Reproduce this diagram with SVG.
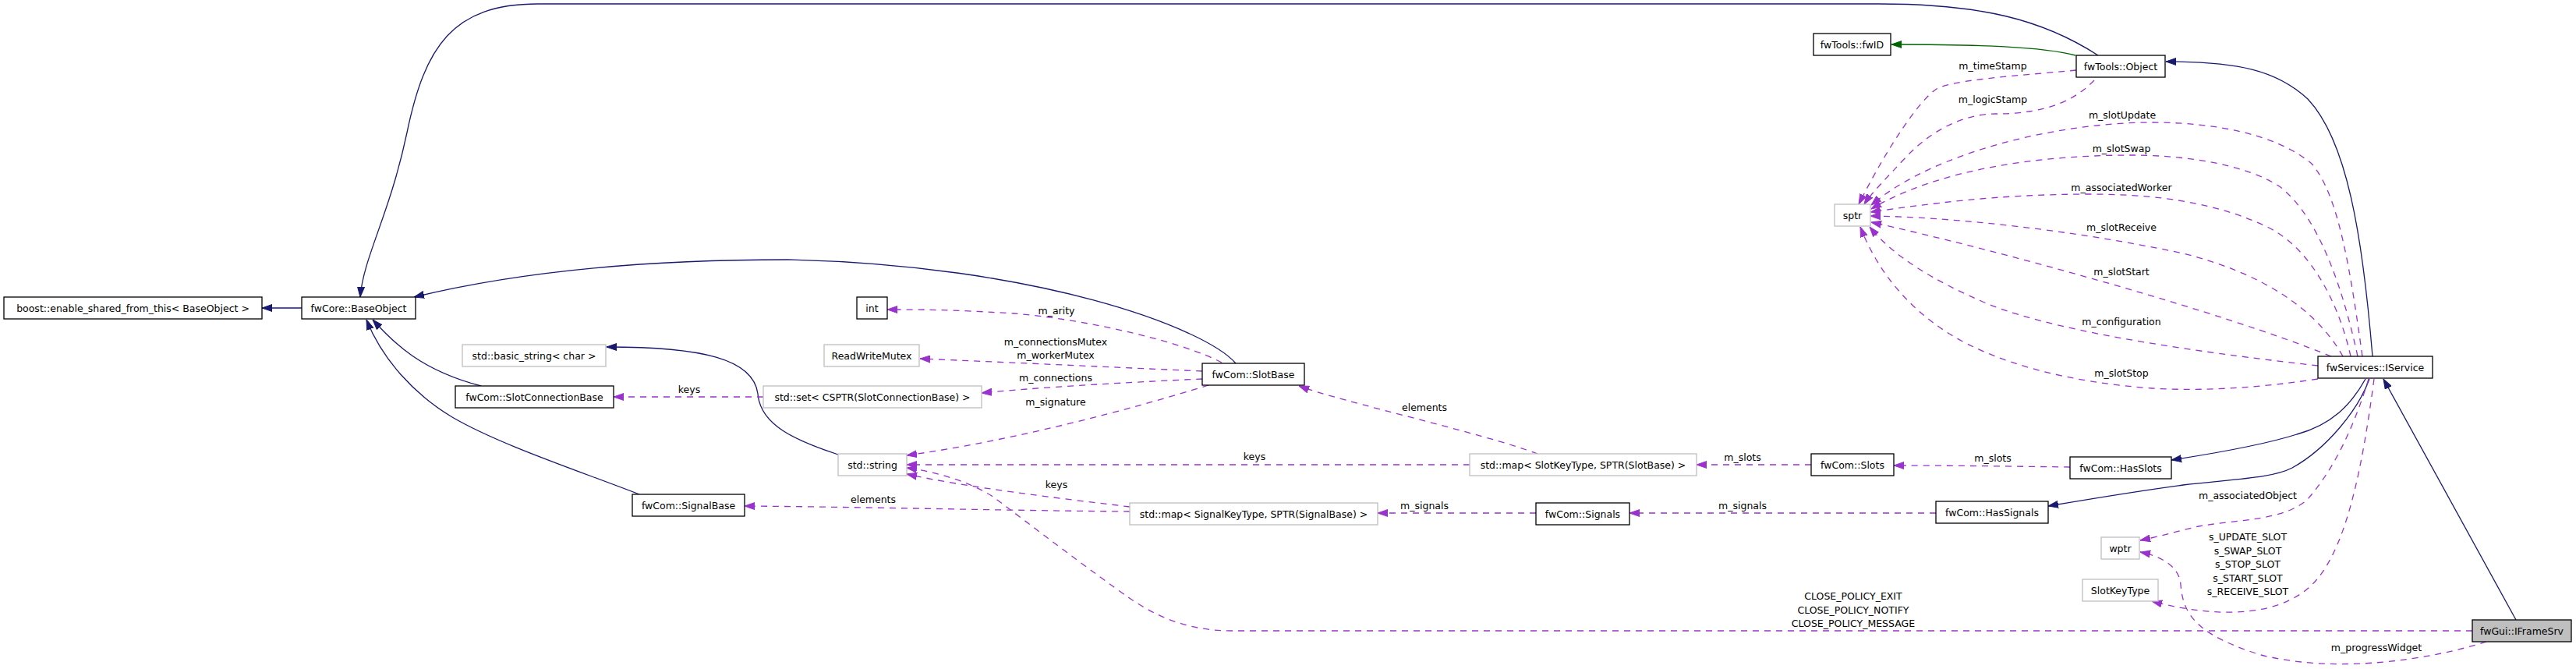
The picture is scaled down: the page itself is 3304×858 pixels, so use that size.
<svg xmlns="http://www.w3.org/2000/svg" width="3304" height="858" viewBox="0 0 3304 858">
<style>
text{font-family:"DejaVu Sans","Liberation Sans",sans-serif;font-size:12.5px;text-anchor:middle;fill:#000}
.n rect{fill:#fff;stroke:#000;stroke-width:1.3}
.u rect{fill:#fff;stroke:#bfbfbf;stroke-width:1.3}
.f rect{fill:#bfbfbf;stroke:#000;stroke-width:1.3}
.e{fill:none;stroke-width:1.3}
.pub{stroke:#191970;marker-end:url(#aN)}
.prot{stroke:#006400;marker-end:url(#aG)}
.use{stroke:#9a32cd;stroke-dasharray:8,7;marker-end:url(#aP)}
</style>
<defs>
<marker id="aN" viewBox="0 0 13 10" markerUnits="userSpaceOnUse" markerWidth="13" markerHeight="10" refX="13" refY="5" orient="auto"><path d="M0,0.5 L13,5 L0,9.5 z" fill="#191970" stroke="#191970" stroke-width="1"/></marker>
<marker id="aG" viewBox="0 0 13 10" markerUnits="userSpaceOnUse" markerWidth="13" markerHeight="10" refX="13" refY="5" orient="auto"><path d="M0,0.5 L13,5 L0,9.5 z" fill="#006400" stroke="#006400" stroke-width="1"/></marker>
<marker id="aP" viewBox="0 0 13 10" markerUnits="userSpaceOnUse" markerWidth="13" markerHeight="10" refX="13" refY="5" orient="auto"><path d="M0,0.5 L13,5 L0,9.5 z" fill="#9a32cd" stroke="#9a32cd" stroke-width="1"/></marker>
</defs>
<rect x="0" y="0" width="3304" height="858" fill="#fff"/>
<g id="connectors">
<path class="e pub" d="M387,395 L336,395"/>
<path class="e pub" d="M2691,71 C2620,25 2540,5 2410,5 L690,5 C580,5 545,60 522,170 C500,275 466,330 462,381"/>
<path class="e pub" d="M1585,466 C1545,420 1330,340 1010,333 C880,333 700,340 531,381"/>
<path class="e pub" d="M617,495 C540,475 505,440 478,410"/>
<path class="e pub" d="M820,634 C740,603 640,570 580,535 C530,505 490,460 470,410"/>
<path class="e pub" d="M1075,583 C1020,565 975,545 972,505 C966,460 900,445 778,445"/>
<path class="e prot" d="M2662,71 C2620,60 2540,57 2426,57"/>
<path class="e pub" d="M3043,457 C3030,300 3010,180 2960,127 C2920,90 2870,79 2778,79"/>
<path class="e pub" d="M3034,486 C3015,520 2990,545 2946,557 C2905,570 2850,580 2785,590"/>
<path class="e pub" d="M3039,486 C3025,525 2985,575 2940,600 C2915,613 2870,614 2800,622 C2740,630 2680,640 2627,649"/>
<path class="e pub" d="M3227,795 L3057,486"/>
<path class="e use" d="M1567,465 C1520,440 1400,410 1300,402 C1220,397 1180,397 1138,397"/>
<path class="e use" d="M1542,476 C1450,472 1300,465 1180,460"/>
<path class="e use" d="M1542,486 C1450,490 1330,497 1259,504"/>
<path class="e use" d="M1550,494 C1450,525 1300,565 1163,584"/>
<path class="e use" d="M979,509 L787,509"/>
<path class="e use" d="M1972,582 C1900,555 1720,515 1666,495"/>
<path class="e use" d="M1885,596 L1163,596"/>
<path class="e use" d="M1449,650 C1350,638 1240,625 1163,608"/>
<path class="e use" d="M1449,656 C1300,655 1100,650 955,649"/>
<path class="e use" d="M2323,596 L2176,596"/>
<path class="e use" d="M1970,658 L1767,658"/>
<path class="e use" d="M2655,599 C2580,598 2500,597 2429,597"/>
<path class="e use" d="M2483,658 L2090,658"/>
<path class="e use" d="M2663,90 C2590,97 2505,102 2484,114 C2462,128 2420,190 2384,262"/>
<path class="e use" d="M2686,103 C2665,125 2630,146 2560,146 C2515,146 2475,170 2446,200 C2420,228 2400,248 2391,262"/>
<path class="e use" d="M3030,457 C3015,350 3000,250 2965,210 C2920,172 2840,157 2760,157 C2640,157 2480,195 2400,263"/>
<path class="e use" d="M3024,457 C3005,370 2975,280 2925,240 C2880,210 2800,199 2735,199 C2620,199 2490,215 2400,268"/>
<path class="e use" d="M3015,457 C3000,390 2965,320 2910,292 C2840,258 2760,249 2680,249 C2560,249 2470,262 2399,272"/>
<path class="e use" d="M3005,457 C2970,395 2900,350 2800,325 C2660,295 2500,278 2399,277"/>
<path class="e use" d="M2990,457 C2850,400 2560,320 2400,285"/>
<path class="e use" d="M2973,469 C2850,455 2650,430 2550,390 C2480,360 2430,330 2398,291"/>
<path class="e use" d="M2973,486 C2900,497 2830,502 2760,498 C2650,490 2560,465 2500,428 C2440,390 2405,340 2386,291"/>
<path class="e use" d="M3038,486 C3020,545 2995,600 2960,640 C2930,668 2870,666 2820,675 C2790,682 2770,688 2745,693"/>
<path class="e use" d="M3045,486 C3030,600 3010,700 2970,745 C2930,790 2850,795 2760,771"/>
<path class="e use" d="M3189,823 C3120,845 3000,865 2900,840 C2820,815 2800,790 2797,750 C2795,725 2770,713 2745,708"/>
<path class="e use" d="M3171,809 L1580,809 C1530,809 1490,795 1450,768 C1400,733 1320,672 1275,638 C1245,618 1200,605 1163,600"/>
<text x="884" y="504">keys</text>
<text x="1355" y="403">m_arity</text>
<text x="1354" y="443">m_connectionsMutex</text>
<text x="1354" y="460">m_workerMutex</text>
<text x="1354" y="489">m_connections</text>
<text x="1354" y="520">m_signature</text>
<text x="1827" y="527">elements</text>
<text x="1609" y="590">keys</text>
<text x="1355" y="626">keys</text>
<text x="1120" y="645">elements</text>
<text x="1827" y="653">m_signals</text>
<text x="2235" y="591">m_slots</text>
<text x="2556" y="592">m_slots</text>
<text x="2235" y="653">m_signals</text>
<text x="2556" y="89">m_timeStamp</text>
<text x="2556" y="132">m_logicStamp</text>
<text x="2722" y="152">m_slotUpdate</text>
<text x="2721" y="195">m_slotSwap</text>
<text x="2721" y="245">m_associatedWorker</text>
<text x="2721" y="296">m_slotReceive</text>
<text x="2721" y="353">m_slotStart</text>
<text x="2721" y="417">m_configuration</text>
<text x="2721" y="483">m_slotStop</text>
<text x="2883" y="640">m_associatedObject</text>
<text x="2883" y="693">s_UPDATE_SLOT</text>
<text x="2883" y="710.5">s_SWAP_SLOT</text>
<text x="2883" y="728">s_STOP_SLOT</text>
<text x="2883" y="745.5">s_START_SLOT</text>
<text x="2883" y="763">s_RECEIVE_SLOT</text>
<text x="2377" y="769">CLOSE_POLICY_EXIT</text>
<text x="2377" y="786.5">CLOSE_POLICY_NOTIFY</text>
<text x="2377" y="804">CLOSE_POLICY_MESSAGE</text>
<text x="3048" y="835">m_progressWidget</text>
</g>
<g id="node-boost" class="n"><rect x="5" y="381" width="331" height="28"/><text x="170.5" y="399.5">boost::enable_shared_from_this&lt; BaseObject &gt;</text></g>
<g id="node-BaseObject" class="n"><rect x="387" y="381" width="146" height="28"/><text x="460" y="399.5">fwCore::BaseObject</text></g>
<g id="node-basic_string" class="u"><rect x="593" y="442" width="184" height="28"/><text x="685" y="460.5">std::basic_string&lt; char &gt;</text></g>
<g id="node-SlotConnectionBase" class="n"><rect x="584" y="495" width="203" height="28"/><text x="685.5" y="513.5">fwCom::SlotConnectionBase</text></g>
<g id="node-int" class="n"><rect x="1099" y="381" width="39" height="28"/><text x="1118.5" y="399.5">int</text></g>
<g id="node-ReadWriteMutex" class="u"><rect x="1057" y="442" width="122" height="28"/><text x="1118" y="460.5">ReadWriteMutex</text></g>
<g id="node-set" class="u"><rect x="979" y="495" width="280" height="28"/><text x="1119" y="513.5">std::set&lt; CSPTR(SlotConnectionBase) &gt;</text></g>
<g id="node-SlotBase" class="n"><rect x="1542" y="466" width="131" height="28"/><text x="1607.5" y="484.5">fwCom::SlotBase</text></g>
<g id="node-string" class="u"><rect x="1075" y="582" width="88" height="28"/><text x="1119" y="600.5">std::string</text></g>
<g id="node-SignalBase" class="n"><rect x="811" y="634" width="144" height="28"/><text x="883" y="652.5">fwCom::SignalBase</text></g>
<g id="node-SignalMap" class="u"><rect x="1449" y="645" width="318" height="28"/><text x="1608" y="663.5">std::map&lt; SignalKeyType, SPTR(SignalBase) &gt;</text></g>
<g id="node-SlotMap" class="u"><rect x="1885" y="582" width="291" height="28"/><text x="2030.5" y="600.5">std::map&lt; SlotKeyType, SPTR(SlotBase) &gt;</text></g>
<g id="node-Signals" class="n"><rect x="1970" y="645" width="120" height="28"/><text x="2030" y="663.5">fwCom::Signals</text></g>
<g id="node-fwID" class="n"><rect x="2326" y="43" width="99" height="28"/><text x="2375.5" y="61.5">fwTools::fwID</text></g>
<g id="node-Object" class="n"><rect x="2663" y="71" width="114" height="28"/><text x="2720" y="89.5">fwTools::Object</text></g>
<g id="node-sptr" class="u"><rect x="2353" y="262" width="46" height="28"/><text x="2376" y="280.5">sptr</text></g>
<g id="node-IService" class="n"><rect x="2973" y="457" width="147" height="28"/><text x="3046.5" y="475.5">fwServices::IService</text></g>
<g id="node-Slots" class="n"><rect x="2323" y="582" width="106" height="28"/><text x="2376" y="600.5">fwCom::Slots</text></g>
<g id="node-HasSlots" class="n"><rect x="2655" y="586" width="130" height="28"/><text x="2720" y="604.5">fwCom::HasSlots</text></g>
<g id="node-HasSignals" class="n"><rect x="2483" y="643" width="144" height="28"/><text x="2555" y="661.5">fwCom::HasSignals</text></g>
<g id="node-wptr" class="u"><rect x="2695" y="689" width="49" height="28"/><text x="2719.5" y="707.5">wptr</text></g>
<g id="node-SlotKeyType" class="u"><rect x="2671" y="743" width="97" height="28"/><text x="2719.5" y="761.5">SlotKeyType</text></g>
<g id="node-IFrameSrv" class="f"><rect x="3171" y="795" width="127" height="28"/><text x="3234.5" y="813.5">fwGui::IFrameSrv</text></g>
</svg>
